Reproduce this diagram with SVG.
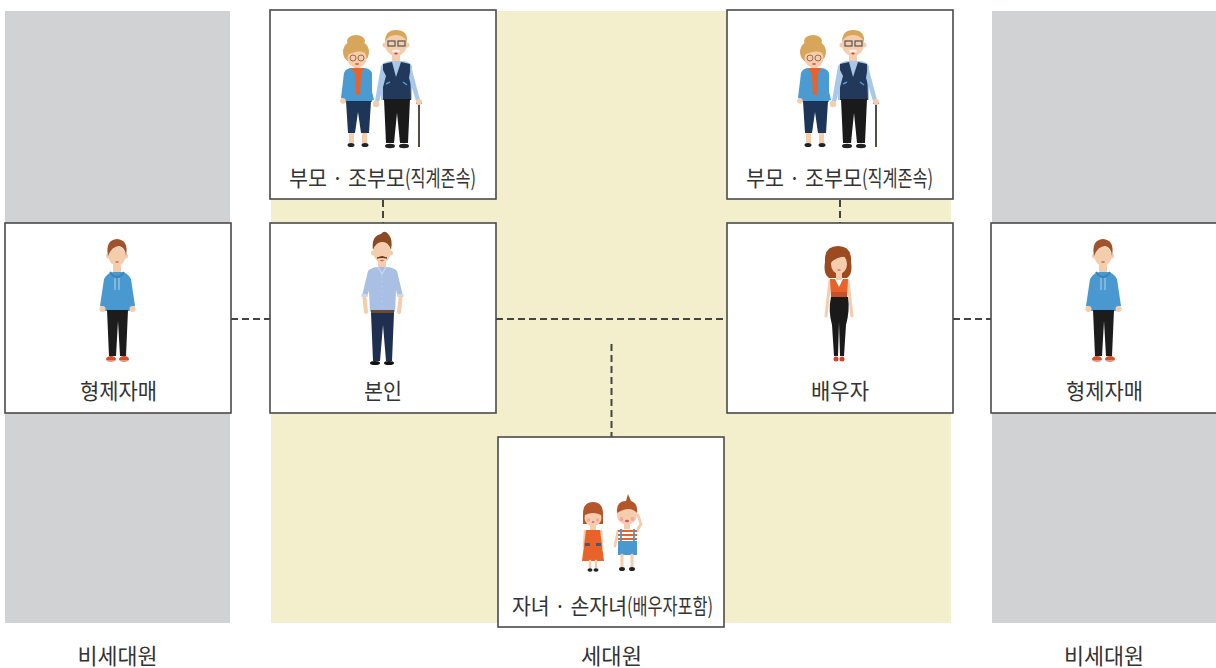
<svg xmlns="http://www.w3.org/2000/svg" xmlns:xlink="http://www.w3.org/1999/xlink" width="1216" height="668" viewBox="0 0 1216 668">
<style>
.box{fill:#fff;stroke:#4a4a4a;stroke-width:1.6}
.lbl{font-family:"Noto Sans CJK KR","Noto Sans",sans-serif;font-size:22px;fill:#333}
.con{stroke:#444;stroke-width:2;stroke-dasharray:7 4;fill:none}
.skin{fill:#f3cdac}
.skinl{stroke:#f3cdac;stroke-linecap:round;fill:none}
</style>
<defs>
<g id="fig-grandparents">
  <!-- grandma -->
  <ellipse cx="356" cy="41" rx="9" ry="6" fill="#d8a65a"/>
  <ellipse cx="356" cy="52" rx="13" ry="12" fill="#d8a65a"/>
  <ellipse class="skin" cx="357" cy="58" rx="9.5" ry="10"/>
  <path d="M347,55 Q349,44 358,44 Q367,45 368,55 Q361,48 347,55 Z" fill="#d8a65a"/>
  <circle cx="353" cy="58" r="3" fill="none" stroke="#9b6b4a" stroke-width="1"/>
  <circle cx="361" cy="58" r="3" fill="none" stroke="#9b6b4a" stroke-width="1"/>
  <ellipse cx="357" cy="64" rx="2" ry="1" fill="#e0604a"/>
  <rect class="skin" x="354" y="66" width="6" height="4"/>
  <path d="M344,73 Q346,68 352,68 L363,68 Q370,68 372,73 L372,102 L345,102 Z" fill="#4a9bd1"/>
  <path d="M344,73 L341,98 L345,99 L349,78 Z" fill="#4a9bd1"/>
  <circle class="skin" cx="343" cy="101" r="2.8"/>
  <path d="M366,74 Q372,90 374,100 L370,101 L364,82 Z" fill="#4a9bd1"/>
  <path d="M351,68 L364,68 L361,74 L360,95 L356,95 L355,74 Z" fill="#e8622a"/>
  <path d="M346,101 L371,101 L369,133 L361,133 L358,112 L355,133 L348,133 Z" fill="#1d3557"/>
  <rect class="skin" x="349" y="133" width="5" height="10"/>
  <rect class="skin" x="362" y="133" width="5" height="10"/>
  <ellipse cx="351" cy="145" rx="3.5" ry="2" fill="#222"/>
  <ellipse cx="365" cy="145" rx="3.5" ry="2" fill="#222"/>
  <!-- grandpa -->
  <circle class="skin" cx="385" cy="45" r="2.5"/>
  <circle class="skin" cx="407" cy="45" r="2.5"/>
  <ellipse class="skin" cx="396" cy="44" rx="11" ry="12"/>
  <path d="M385,42 Q385,30 396,30 Q408,30 407,42 Q404,35 396,35 Q388,35 385,42 Z" fill="#d8a65a"/>
  <rect x="388" y="41" width="7" height="5" fill="none" stroke="#555" stroke-width="1.2"/>
  <rect x="398" y="41" width="7" height="5" fill="none" stroke="#555" stroke-width="1.2"/>
  <ellipse cx="396" cy="51" rx="4" ry="1.6" fill="#eee"/>
  <ellipse cx="396" cy="53.5" rx="1.8" ry="0.9" fill="#d04a3a"/>
  <rect class="skin" x="392" y="55" width="8" height="6"/>
  <path d="M381,66 Q384,61 392,61 L402,61 Q409,61 412,66 L412,100 L381,100 Z" fill="#a9c7e8"/>
  <path d="M383,64 L392,62 L396,77 L401,62 L410,64 L411,100 L383,100 Z" fill="#23395b"/>
  <path d="M386,84 L390,82 M403,82 L407,85" stroke="#4a9bd1" stroke-width="1.5"/>
  <path d="M381,66 L375,101 L379,102 L386,76 Z" fill="#a9c7e8"/>
  <circle class="skin" cx="376" cy="104" r="3.2"/>
  <path d="M411,66 L420,100 L416,101 L409,78 Z" fill="#a9c7e8"/>
  <path d="M384,99 L410,99 L408,143 L400,143 L397,113 L394,143 L386,143 Z" fill="#1a1a1a"/>
  <ellipse cx="390" cy="146" rx="5" ry="2.2" fill="#222"/>
  <ellipse cx="404" cy="146" rx="5" ry="2.2" fill="#222"/>
  <line x1="419" y1="103" x2="419" y2="147" stroke="#5b4a3f" stroke-width="2"/>
  <line x1="416" y1="103" x2="422" y2="103" stroke="#5b4a3f" stroke-width="2"/>
  <circle class="skin" cx="419" cy="102" r="3"/>
</g>
<g id="fig-brother">
  <circle class="skin" cx="108.5" cy="256" r="2.5"/>
  <circle class="skin" cx="125.5" cy="256" r="2.5"/>
  <ellipse class="skin" cx="117" cy="256" rx="8.5" ry="10"/>
  <path d="M108,256 Q105,240 117,239 Q129,240 126,256 Q125,247 119,246 Q112,246 108,256 Z" fill="#a0522d"/>
  <ellipse cx="117" cy="262" rx="2" ry="0.8" fill="#c9605a"/>
  <rect class="skin" x="113" y="265" width="8" height="8"/>
  <path d="M104,279 Q108,272 114,272 L121,272 Q127,272 131,279 L130,311 L105,311 Z" fill="#4a98d0"/>
  <path d="M110,272 Q117,282 124,272" fill="none" stroke="#3a82b8" stroke-width="2"/>
  <path d="M115,278 L115,290 M119,278 L119,290" stroke="#cfe4f3" stroke-width="0.8"/>
  <path d="M104,279 L100,306 L105,307 L109,286 Z" fill="#4a98d0"/>
  <path d="M131,279 L135,306 L130,307 L126,286 Z" fill="#4a98d0"/>
  <circle class="skin" cx="102.5" cy="309" r="3"/>
  <circle class="skin" cx="132.5" cy="309" r="3"/>
  <path d="M107,310 L128,310 L126,356 L120,356 L118,321 L116,356 L109,356 Z" fill="#1c1c1c"/>
  <ellipse cx="111" cy="359" rx="5" ry="3" fill="#d9502a"/>
  <ellipse cx="124" cy="359" rx="5" ry="3" fill="#d9502a"/>
  <path d="M106,361 L116,361 M119,361 L129,361" stroke="#ddd" stroke-width="1.2"/>
</g>
</defs>

<!-- regions -->
<g id="regions">
  <rect x="5" y="11" width="225" height="612" fill="#d1d2d4"/>
  <rect x="992" y="11" width="224" height="612" fill="#d1d2d4"/>
  <rect x="271" y="11" width="680" height="612" fill="#f3eecb"/>
</g>

<!-- connectors -->
<g id="connectors">
  <line class="con" x1="383" y1="200" x2="383" y2="223"/>
  <line class="con" x1="840" y1="200" x2="840" y2="223"/>
  <line class="con" x1="231" y1="319" x2="270" y2="319"/>
  <line class="con" x1="496" y1="319" x2="727" y2="319"/>
  <line class="con" x1="953" y1="319" x2="991" y2="319"/>
  <line class="con" x1="611.5" y1="344" x2="611.5" y2="437"/>
</g>

<g id="node-parents-left">
  <rect class="box" x="270" y="10" width="226" height="189"/>
  <use xlink:href="#fig-grandparents"/>
  <text class="lbl" x="289" y="186" textLength="116" lengthAdjust="spacingAndGlyphs">부모 · 조부모</text>
  <text class="lbl" x="405" y="186" textLength="71" lengthAdjust="spacingAndGlyphs">(직계존속)</text>
</g>

<g id="node-parents-right">
  <rect class="box" x="727" y="10" width="226" height="189"/>
  <use xlink:href="#fig-grandparents" transform="translate(457,0)"/>
  <text class="lbl" x="746" y="186" textLength="116" lengthAdjust="spacingAndGlyphs">부모 · 조부모</text>
  <text class="lbl" x="862" y="186" textLength="71" lengthAdjust="spacingAndGlyphs">(직계존속)</text>
</g>

<g id="node-sibling-left">
  <rect class="box" x="5" y="223" width="226" height="190"/>
  <use xlink:href="#fig-brother"/>
  <text class="lbl" x="118.5" y="399" text-anchor="middle" textLength="77" lengthAdjust="spacingAndGlyphs">형제자매</text>
</g>

<g id="node-self">
  <rect class="box" x="270" y="223" width="226" height="190"/>
  <circle class="skin" cx="373.5" cy="253" r="2.5"/>
  <circle class="skin" cx="390.5" cy="253" r="2.5"/>
  <ellipse class="skin" cx="382" cy="252" rx="8.5" ry="11"/>
  <path d="M373,250 Q371,236 381,234 Q385,229 389,235 Q393,240 391,250 Q388,241 382,242 Q376,242 373,250 Z" fill="#8b4a22"/>
  <path d="M377,258 Q382,255 387,258 Q382,257 377,258 Z" fill="#6b3a1a" stroke="#6b3a1a" stroke-width="1"/>
  <ellipse cx="382" cy="260.5" rx="2" ry="0.8" fill="#d9606a"/>
  <rect class="skin" x="378" y="262" width="8" height="8"/>
  <path d="M368,271 Q372,267 378,267 L386,267 Q393,267 397,271 L395,312 L370,312 Z" fill="#a9c0e4"/>
  <path d="M378,267 L382,274 L386,267" fill="none" stroke="#c8d8ef" stroke-width="1.2"/>
  <path d="M382,276 L382,308" stroke="#c8d8ef" stroke-width="0.8" stroke-dasharray="1 4"/>
  <path d="M368,271 L362,296 L367,297 L372,280 Z" fill="#a9c0e4"/>
  <path d="M397,271 L403,296 L398,297 L393,280 Z" fill="#a9c0e4"/>
  <rect x="361.5" y="294" width="6" height="3" fill="#c8d8ef"/>
  <rect x="397.5" y="294" width="6" height="3" fill="#c8d8ef"/>
  <path class="skinl" d="M364.5,298 L366,312" stroke-width="4"/>
  <path class="skinl" d="M400.5,298 L399,312" stroke-width="4"/>
  <rect x="371" y="310" width="23" height="3" fill="#6b4a30"/>
  <path d="M371,313 L394,313 L392,361 L386,361 L383,325 L380,361 L373,361 Z" fill="#1e2f50"/>
  <ellipse cx="375" cy="363" rx="5" ry="2" fill="#111"/>
  <ellipse cx="389" cy="363" rx="5" ry="2" fill="#111"/>
  <text class="lbl" x="383" y="399" text-anchor="middle" textLength="38" lengthAdjust="spacingAndGlyphs">본인</text>
</g>

<g id="node-spouse">
  <rect class="box" x="727" y="223" width="226" height="190"/>
  <path d="M825,262 Q824,246 838,246 Q852,246 851,262 Q853,274 847,278 L829,278 Q823,274 825,262 Z" fill="#9c4a1f"/>
  <ellipse class="skin" cx="839" cy="264" rx="8" ry="10"/>
  <path d="M830,263 Q831,249 840,249 Q848,250 850,259 Q842,253 830,263 Z" fill="#9c4a1f"/>
  <ellipse cx="839" cy="270" rx="1.8" ry="0.8" fill="#d9606a"/>
  <rect class="skin" x="836" y="273" width="6" height="7"/>
  <path class="skinl" d="M830,281 L826,316" stroke-width="3"/>
  <path class="skinl" d="M848,281 L852,316" stroke-width="3"/>
  <path d="M830,279 L835,279 L839,287 L843,279 L848,279 L847,298 L831,298 Z" fill="#e8622a"/>
  <rect x="831" y="292" width="16" height="6" fill="#c9502a"/>
  <path d="M831,297 L848,297 Q850,310 846,325 L844,356 L840,356 L839,322 L838,356 L834,356 L832,325 Q828,310 831,297 Z" fill="#1a1a1a"/>
  <ellipse cx="836" cy="359" rx="2.5" ry="2.5" fill="#d9402a"/>
  <ellipse cx="842" cy="359" rx="2.5" ry="2.5" fill="#d9402a"/>
  <text class="lbl" x="840" y="399" text-anchor="middle" textLength="58" lengthAdjust="spacingAndGlyphs">배우자</text>
</g>

<g id="node-sibling-right">
  <rect class="box" x="991" y="223" width="226" height="190"/>
  <use xlink:href="#fig-brother" transform="translate(986,0)"/>
  <text class="lbl" x="1104.5" y="399" text-anchor="middle" textLength="77" lengthAdjust="spacingAndGlyphs">형제자매</text>
</g>

<g id="node-children">
  <rect class="box" x="498" y="437" width="226" height="190"/>
  <!-- girl -->
  <path d="M583,514 Q583,502 593,502 Q603,502 603,514 L603,524 L583,524 Z" fill="#b5552b"/>
  <ellipse class="skin" cx="593" cy="518" rx="8.5" ry="8"/>
  <path d="M585,515 Q586,507 593,507 Q600,507 601,515 Q593,511 585,515 Z" fill="#b5552b"/>
  <circle cx="588.5" cy="520" r="1.8" fill="#f5a8a0"/>
  <circle cx="597.5" cy="520" r="1.8" fill="#f5a8a0"/>
  <ellipse cx="593" cy="522" rx="1.5" ry="0.8" fill="#d9506a"/>
  <rect class="skin" x="590" y="525" width="6" height="5"/>
  <path class="skinl" d="M585,531 L584,546" stroke-width="2.5"/>
  <path class="skinl" d="M601,531 L602,546" stroke-width="2.5"/>
  <path d="M586,530 L600,530 L604,561 L582,561 Z" fill="#e8622a"/>
  <rect x="585" y="543" width="5" height="3" fill="#556"/>
  <rect x="596" y="543" width="5" height="3" fill="#556"/>
  <path class="skinl" d="M590,561 L590,568 M596,561 L596,568" stroke-width="2.5"/>
  <ellipse cx="590" cy="570" rx="2.5" ry="1.8" fill="#222"/>
  <ellipse cx="596" cy="570" rx="2.5" ry="1.8" fill="#222"/>
  <!-- boy -->
  <ellipse class="skin" cx="627" cy="515" rx="10" ry="9.5"/>
  <path d="M617,513 Q616,501 626,501 L628,494 L631,501 Q638,503 637,513 Q630,505 617,513 Z" fill="#b5552b"/>
  <circle cx="621.5" cy="519" r="2" fill="#f5a8a0"/>
  <circle cx="632.5" cy="519" r="2" fill="#f5a8a0"/>
  <ellipse cx="627" cy="521" rx="2" ry="1.2" fill="#d9506a"/>
  <rect class="skin" x="624" y="524" width="6" height="5"/>
  <path class="skinl" d="M618,531 L615,546" stroke-width="2.8"/>
  <path class="skinl" d="M636,532 L641,524 L638,515" stroke-width="2.8"/>
  <rect x="618" y="529" width="19" height="13" fill="#fff"/>
  <rect x="618" y="530" width="19" height="2" fill="#e8622a"/>
  <rect x="618" y="534" width="19" height="2" fill="#e8622a"/>
  <rect x="618" y="538" width="19" height="2" fill="#e8622a"/>
  <path d="M621,529 L621,542 M634,529 L634,542" stroke="#4a98d0" stroke-width="1.8"/>
  <rect x="618" y="541" width="19" height="14" fill="#4a98d0"/>
  <path class="skinl" d="M622,555 L622,567 M632,555 L632,567" stroke-width="3"/>
  <ellipse cx="622" cy="569" rx="3" ry="2" fill="#222"/>
  <ellipse cx="632" cy="569" rx="3" ry="2" fill="#222"/>
  <text class="lbl" x="512" y="614" textLength="115" lengthAdjust="spacingAndGlyphs">자녀 · 손자녀</text>
  <text class="lbl" x="627" y="614" textLength="86" lengthAdjust="spacingAndGlyphs">(배우자포함)</text>
</g>

<g id="region-labels">
  <text class="lbl" x="117.5" y="664" text-anchor="middle" textLength="80" lengthAdjust="spacingAndGlyphs">비세대원</text>
  <text class="lbl" x="611.5" y="664" text-anchor="middle" textLength="61" lengthAdjust="spacingAndGlyphs">세대원</text>
  <text class="lbl" x="1104" y="664" text-anchor="middle" textLength="80" lengthAdjust="spacingAndGlyphs">비세대원</text>
</g>
</svg>
